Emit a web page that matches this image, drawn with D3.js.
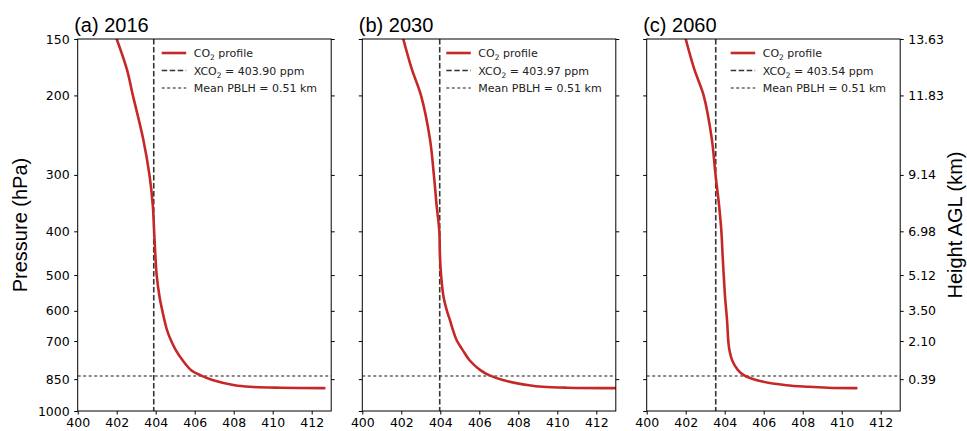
<!DOCTYPE html>
<meta charset="utf-8">
<script src="https://d3js.org/d3.v7.min.js"></script>
<style>
  body { margin: 0; background: #fff; }
  text { font-family: "DejaVu Sans", sans-serif; }
</style>
<div id="chart"></div>
<script>

// pressure levels (hPa) of the profiles
var pressureLevels = [150, 175, 200, 250, 300, 350, 400, 450, 500, 560, 600, 630, 662, 697, 733, 772, 812, 833, 855, 877, 884, 888, 890];

// CO2 profiles (ppm)
var co2_2016 = [402.00, 402.52, 402.83, 403.36, 403.68, 403.85, 403.92, 403.98, 404.05, 404.20, 404.34, 404.45, 404.58, 404.78, 405.03, 405.38, 405.82, 406.28, 406.95, 408.05, 408.85, 410.40, 412.65];
var co2_2030 = [402.10, 402.54, 403.01, 403.47, 403.67, 403.81, 403.95, 403.98, 404.04, 404.17, 404.34, 404.50, 404.65, 404.84, 405.15, 405.50, 406.05, 406.50, 407.25, 408.55, 409.25, 410.50, 413.30];
var co2_2060 = [402.00, 402.44, 402.92, 403.34, 403.53, 403.71, 403.83, 403.89, 403.95, 404.02, 404.08, 404.12, 404.15, 404.18, 404.24, 404.38, 404.68, 404.98, 405.65, 407.16, 408.30, 409.30, 410.75];

var panelTitles = ["(a) 2016", "(b) 2030", "(c) 2060"];
var xco2Values = [403.90, 403.97, 403.54];
var pblhPressure = 837;     // mean PBLH = 0.51 km
var pblhKm = 0.51;

var pressureTicks = [150, 200, 300, 400, 500, 600, 700, 850, 1000];
var heightTicks = [150, 200, 300, 400, 500, 600, 700, 850];
var heightLabels = ["13.63", "11.83", "9.14", "6.98", "5.12", "3.50", "2.10", "0.39"];
var xTicks = [400, 402, 404, 406, 408, 410, 412];

var profiles = [co2_2016, co2_2030, co2_2060];

var W = 967, H = 431;
var panelLeft = [77.7, 362.3, 646.7],
    panelWidth = 253.5,
    plotTop = 39, plotBottom = 411;

var svg = d3.select("#chart").append("svg")
    .attr("width", W)
    .attr("height", H);

var y = d3.scaleLog()
    .domain([150, 1000])
    .range([plotTop, plotBottom]);

var red = "#c62828";

profiles.forEach(function(values, i) {
  var g = svg.append("g")
      .attr("transform", "translate(" + panelLeft[i] + ",0)");

  var x = d3.scaleLinear()
      .domain([400, 413])
      .range([0, panelWidth]);

  g.append("clipPath")
      .attr("id", "clip" + i)
    .append("rect")
      .attr("x", 0).attr("y", plotTop)
      .attr("width", panelWidth).attr("height", plotBottom - plotTop);

  var plot = g.append("g").attr("clip-path", "url(#clip" + i + ")");

  // PBLH line
  plot.append("line")
      .attr("x1", 0).attr("x2", panelWidth)
      .attr("y1", y(pblhPressure)).attr("y2", y(pblhPressure))
      .attr("stroke", "#666")
      .attr("stroke-width", 1.5)
      .attr("stroke-dasharray", "3,2.5");

  // XCO2 line
  plot.append("line")
      .attr("x1", x(xco2Values[i])).attr("x2", x(xco2Values[i]))
      .attr("y1", plotTop).attr("y2", plotBottom)
      .attr("stroke", "#333")
      .attr("stroke-width", 1.6)
      .attr("stroke-dasharray", "5.5,2.5");

  // profile
  var line = d3.line()
      .x(function(d) { return x(d[0]); })
      .y(function(d) { return y(d[1]); })
      .curve(d3.curveCatmullRom.alpha(0.5));

  plot.append("path")
      .datum(d3.zip(values, pressureLevels))
      .attr("fill", "none")
      .attr("stroke", red)
      .attr("stroke-width", 2.6)
      .attr("stroke-linecap", "round")
      .attr("d", line);

  // axes
  var xAxis = g.append("g")
      .attr("transform", "translate(0," + plotBottom + ")")
      .call(d3.axisBottom(x).tickValues(xTicks).tickFormat(d3.format("d"))
        .tickSize(3.5).tickPadding(3.5).tickSizeOuter(0));

  var leftAxis = d3.axisLeft(y).tickValues(pressureTicks)
      .tickSize(3.5).tickPadding(4.5).tickSizeOuter(0);
  if (i > 0) leftAxis.tickFormat("");
  else leftAxis.tickFormat(d3.format("d"));
  var yAxis = g.append("g").call(leftAxis);

  var rightAxis = d3.axisRight(y).tickValues(heightTicks)
      .tickSize(3.5).tickPadding(4.5).tickSizeOuter(0)
      .tickFormat(function(d, k) { return i == 2 ? heightLabels[k] : ""; });
  var rAxis = g.append("g")
      .attr("transform", "translate(" + panelWidth + ",0)")
      .call(rightAxis);

  [xAxis, yAxis, rAxis].forEach(function(a) {
    a.select(".domain").remove();
    a.selectAll("text")
      .style("font-family", "DejaVu Sans, sans-serif")
      .style("font-size", "12.5px")
      .attr("fill", "#000");
    a.selectAll("line").attr("stroke", "#000");
  });

  // frame
  g.append("rect")
      .attr("x", 0).attr("y", plotTop)
      .attr("width", panelWidth).attr("height", plotBottom - plotTop)
      .attr("fill", "none")
      .attr("stroke", "#000")
      .attr("stroke-width", 1);

  // title
  g.append("text")
      .attr("x", -3.5)
      .attr("y", 32)
      .style("font-family", "Liberation Sans, Arial, sans-serif")
      .style("font-size", "20px")
      .text(panelTitles[i]);

  // legend
  var lg = g.append("g").attr("transform", "translate(84," + (plotTop + 14) + ")");
  var items = [
    {stroke: red, width: 2.6, dash: null, label: "profile", co2: true},
    {stroke: "#333", width: 1.6, dash: "5.5,2.5", label: " = " + xco2Values[i].toFixed(2) + " ppm", x: true},
    {stroke: "#666", width: 1.5, dash: "3,2.5", label: "Mean PBLH = " + pblhKm.toFixed(2) + " km"}
  ];
  items.forEach(function(it, k) {
    var row = lg.append("g").attr("transform", "translate(0," + (k * 17.5) + ")");
    row.append("line")
        .attr("x1", 0).attr("x2", 24.5)
        .attr("stroke", it.stroke)
        .attr("stroke-width", it.width)
        .attr("stroke-dasharray", it.dash);
    var t = row.append("text")
        .attr("x", 32)
        .attr("y", 4)
        .style("font-size", "11px")
        .attr("fill", "#222");
    if (it.co2) {
      t.append("tspan").text("CO");
      t.append("tspan").attr("dy", 3).style("font-size", "7.5px").text("2");
      t.append("tspan").attr("dy", -3).text(" " + it.label);
    } else if (it.x) {
      t.append("tspan").text("XCO");
      t.append("tspan").attr("dy", 3).style("font-size", "7.5px").text("2");
      t.append("tspan").attr("dy", -3).text(it.label);
    } else {
      t.text(it.label);
    }
  });
});

// axis titles
svg.append("text")
    .attr("transform", "translate(27," + ((plotTop + plotBottom) / 2) + ") rotate(-90)")
    .attr("text-anchor", "middle")
    .style("font-family", "Liberation Sans, Arial, sans-serif")
    .style("font-size", "20px")
    .text("Pressure (hPa)");

svg.append("text")
    .attr("transform", "translate(962," + ((plotTop + plotBottom) / 2) + ") rotate(-90)")
    .attr("text-anchor", "middle")
    .style("font-family", "Liberation Sans, Arial, sans-serif")
    .style("font-size", "20px")
    .text("Height AGL (km)");

</script>
